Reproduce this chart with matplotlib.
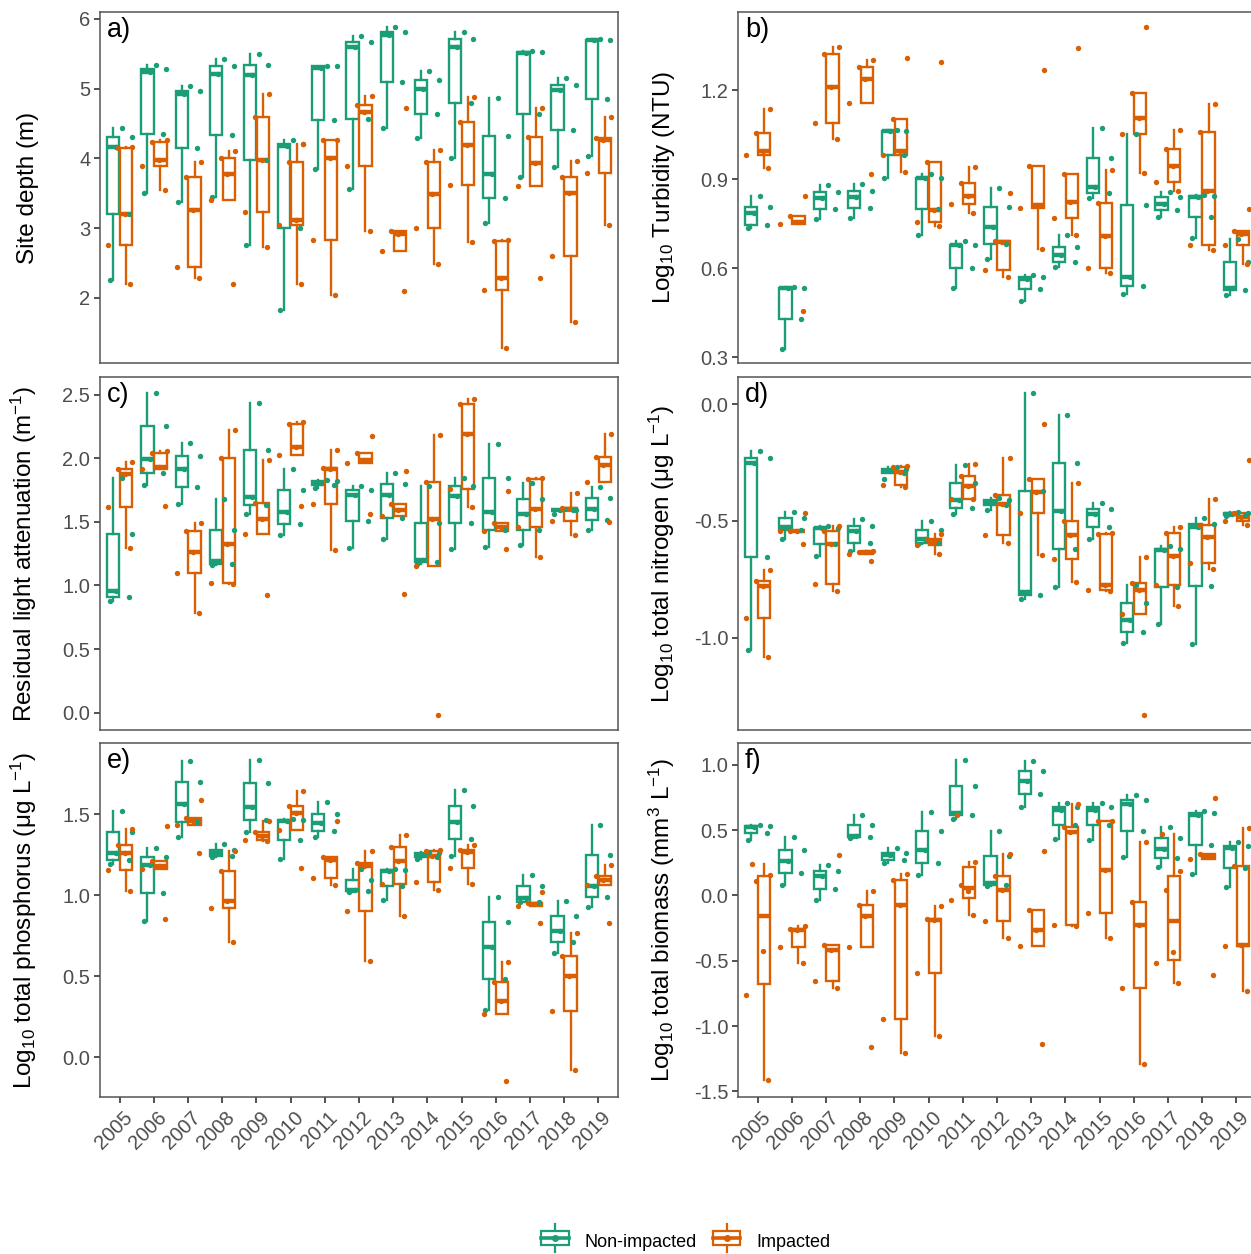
import numpy as np
import matplotlib
matplotlib.use('Agg')
import matplotlib.pyplot as plt
import matplotlib.transforms as mtransforms
from matplotlib.lines import Line2D
from matplotlib.patches import Rectangle
from matplotlib.legend_handler import HandlerBase

plt.rcParams['font.family'] = ['Liberation Sans', 'DejaVu Sans']
plt.rcParams['mathtext.fontset'] = 'custom'
plt.rcParams['mathtext.rm'] = 'Liberation Sans'
plt.rcParams['mathtext.default'] = 'regular'
plt.rcParams['axes.unicode_minus'] = False

GREEN = '#1B9E77'
ORANGE = '#D95F02'
YEARS = [str(y) for y in range(2005, 2020)]
GROUPS = ['Non-impacted', 'Impacted']

# one list of site values per year, 2005..2019

# a) site depth (m)
depth_non = [[2.25, 3.20, 4.17, 4.30, 4.43], [3.50, 4.35, 5.24, 5.28, 5.34], [3.38, 4.15, 4.92, 4.97, 5.04],
             [3.44, 4.34, 5.21, 5.32, 5.42], [2.76, 3.97, 5.20, 5.34, 5.50], [1.82, 3.00, 4.18, 4.20, 4.26],
             [3.85, 4.55, 5.30, 5.32, 5.33], [3.56, 4.56, 5.60, 5.67, 5.76], [4.44, 5.10, 5.77, 5.82, 5.89],
             [4.29, 4.64, 5.00, 5.13, 5.26], [4.00, 4.79, 5.60, 5.71, 5.82], [3.07, 3.43, 3.78, 4.32, 4.86],
             [3.74, 4.63, 5.51, 5.52, 5.54], [3.87, 4.41, 4.98, 5.05, 5.15], [4.04, 4.85, 5.70, 5.70, 5.71]]
depth_imp = [[2.20, 2.76, 3.20, 4.15, 4.16], [3.55, 3.89, 3.97, 4.24, 4.27], [2.28, 2.44, 3.26, 3.73, 3.95],
             [2.20, 3.40, 3.77, 4.00, 4.10], [2.73, 3.23, 3.97, 4.59, 4.92], [2.20, 3.05, 3.12, 3.95, 4.20],
             [2.04, 2.83, 4.00, 4.27, 4.27], [2.96, 3.89, 4.66, 4.77, 4.90], [2.10, 2.67, 2.92, 2.96, 4.72],
             [2.48, 3.00, 3.49, 3.95, 4.12], [2.80, 3.62, 4.19, 4.52, 4.88], [1.28, 2.11, 2.29, 2.82, 2.83],
             [2.28, 3.61, 3.93, 4.31, 4.72], [1.65, 2.60, 3.50, 3.73, 3.96], [3.05, 3.79, 4.26, 4.29, 4.60]]

# b) log10 turbidity (NTU)
turb_non = [[0.734, 0.745, 0.785, 0.805, 0.843], [0.328, 0.429, 0.532, 0.534, 0.538], [0.765, 0.800, 0.837, 0.858, 0.880],
            [0.768, 0.804, 0.840, 0.861, 0.885], [0.903, 0.981, 1.062, 1.063, 1.064], [0.712, 0.801, 0.903, 0.905, 0.919],
            [0.532, 0.600, 0.678, 0.680, 0.692], [0.631, 0.681, 0.740, 0.805, 0.872], [0.491, 0.530, 0.564, 0.571, 0.579],
            [0.603, 0.622, 0.644, 0.672, 0.712], [0.835, 0.852, 0.874, 0.972, 1.071], [0.515, 0.540, 0.571, 0.813, 1.051],
            [0.774, 0.796, 0.815, 0.839, 0.858], [0.703, 0.771, 0.841, 0.843, 0.846], [0.510, 0.527, 0.534, 0.622, 0.700]]
turb_imp = [[0.936, 0.981, 0.996, 1.056, 1.138], [0.456, 0.748, 0.757, 0.776, 0.844], [1.034, 1.088, 1.209, 1.323, 1.346],
            [0.917, 1.155, 1.236, 1.279, 1.303], [0.925, 0.981, 0.996, 1.101, 1.307], [0.742, 0.757, 0.796, 0.959, 1.295],
            [0.787, 0.818, 0.844, 0.886, 0.942], [0.572, 0.594, 0.690, 0.692, 0.855], [0.665, 0.804, 0.813, 0.944, 1.267],
            [0.712, 0.768, 0.822, 0.916, 1.342], [0.583, 0.600, 0.710, 0.821, 0.931], [0.920, 1.051, 1.107, 1.189, 1.413],
            [0.860, 0.891, 0.944, 1.001, 1.065], [0.661, 0.680, 0.861, 1.060, 1.152], [0.616, 0.678, 0.714, 0.725, 0.800]]

# c) residual light attenuation (m-1)
light_non = [[0.875, 0.909, 0.957, 1.402, 1.847], [1.787, 1.887, 1.992, 2.254, 2.513], [1.638, 1.774, 1.913, 2.015, 2.120],
             [1.165, 1.171, 1.190, 1.439, 1.677], [1.564, 1.630, 1.695, 2.068, 2.437], [1.400, 1.486, 1.578, 1.748, 1.913],
             [1.769, 1.787, 1.806, 1.821, 1.826], [1.297, 1.504, 1.709, 1.748, 1.782], [1.363, 1.533, 1.714, 1.800, 1.884],
             [1.171, 1.184, 1.198, 1.491, 1.779], [1.289, 1.494, 1.700, 1.779, 1.847], [1.302, 1.439, 1.578, 1.845, 2.115],
             [1.321, 1.439, 1.564, 1.682, 1.806], [1.564, 1.590, 1.591, 1.595, 1.604], [1.433, 1.517, 1.604, 1.688, 1.774]]
light_imp = [[1.297, 1.617, 1.879, 1.918, 1.970], [1.625, 1.918, 1.931, 2.041, 2.057], [0.786, 1.101, 1.263, 1.428, 1.494],
             [1.009, 1.019, 1.330, 2.003, 2.220], [0.928, 1.402, 1.525, 1.648, 1.990], [1.625, 2.023, 2.089, 2.267, 2.285],
             [1.281, 1.638, 1.918, 1.926, 2.068], [1.564, 1.965, 1.984, 2.041, 2.172], [0.930, 1.546, 1.591, 1.638, 1.900],
             [-0.020, 1.150, 1.520, 1.813, 2.180], [1.617, 1.761, 2.188, 2.424, 2.463], [1.289, 1.428, 1.460, 1.491, 1.743],
             [1.224, 1.460, 1.604, 1.840, 1.845], [1.394, 1.504, 1.604, 1.609, 1.730], [1.499, 1.813, 1.950, 2.010, 2.193]]

# d) log10 total nitrogen
tn_non = [[-1.051, -0.654, -0.250, -0.229, -0.200], [-0.576, -0.540, -0.526, -0.486, -0.461],
          [-0.651, -0.597, -0.530, -0.529, -0.521], [-0.630, -0.593, -0.544, -0.521, -0.490],
          [-0.321, -0.294, -0.286, -0.276, -0.270], [-0.597, -0.593, -0.576, -0.540, -0.501],
          [-0.469, -0.443, -0.409, -0.337, -0.261], [-0.454, -0.433, -0.419, -0.409, -0.400],
          [-0.833, -0.816, -0.804, -0.373, 0.049], [-0.783, -0.621, -0.459, -0.251, -0.047],
          [-0.579, -0.526, -0.469, -0.447, -0.421], [-1.021, -0.976, -0.926, -0.850, -0.773],
          [-0.940, -0.783, -0.623, -0.619, -0.609], [-1.026, -0.779, -0.526, -0.511, -0.487],
          [-0.480, -0.476, -0.469, -0.465, -0.461]]
tn_imp = [[-1.083, -0.916, -0.780, -0.759, -0.711], [-0.597, -0.545, -0.544, -0.543, -0.466],
          [-0.800, -0.771, -0.597, -0.544, -0.521], [-0.673, -0.640, -0.635, -0.633, -0.630],
          [-0.354, -0.347, -0.290, -0.269, -0.265], [-0.640, -0.604, -0.590, -0.576, -0.554],
          [-0.407, -0.407, -0.351, -0.307, -0.257], [-0.593, -0.561, -0.429, -0.387, -0.230],
          [-0.647, -0.466, -0.376, -0.321, -0.083], [-0.761, -0.661, -0.561, -0.501, -0.337],
          [-0.800, -0.797, -0.776, -0.557, -0.550], [-1.333, -0.900, -0.794, -0.764, -0.654],
          [-0.866, -0.776, -0.650, -0.550, -0.526], [-0.704, -0.679, -0.569, -0.519, -0.404],
          [-0.516, -0.500, -0.483, -0.466, -0.237]]

# e) log10 total phosphorus
tp_non = [[1.192, 1.219, 1.260, 1.389, 1.521], [0.842, 1.013, 1.188, 1.233, 1.290], [1.356, 1.451, 1.562, 1.695, 1.829],
          [1.235, 1.239, 1.260, 1.280, 1.315], [1.387, 1.465, 1.543, 1.691, 1.835], [1.225, 1.342, 1.460, 1.465, 1.469],
          [1.356, 1.397, 1.445, 1.500, 1.572], [1.020, 1.023, 1.034, 1.095, 1.161], [0.968, 1.054, 1.147, 1.153, 1.160],
          [1.225, 1.235, 1.249, 1.260, 1.265], [1.243, 1.348, 1.449, 1.547, 1.650], [0.294, 0.485, 0.678, 0.832, 0.986],
          [0.955, 0.958, 0.982, 1.054, 1.126], [0.643, 0.711, 0.781, 0.869, 0.966], [0.925, 0.986, 1.054, 1.245, 1.430]]
tp_imp = [[1.027, 1.157, 1.260, 1.307, 1.410], [0.853, 1.161, 1.180, 1.212, 1.424], [1.260, 1.430, 1.455, 1.475, 1.584],
          [0.711, 0.921, 0.962, 1.151, 1.274], [1.335, 1.338, 1.362, 1.387, 1.455], [1.167, 1.403, 1.506, 1.551, 1.640],
          [1.060, 1.105, 1.214, 1.235, 1.455], [0.592, 0.900, 1.177, 1.198, 1.274], [0.869, 1.071, 1.212, 1.297, 1.368],
          [1.029, 1.081, 1.239, 1.270, 1.276], [1.071, 1.167, 1.264, 1.280, 1.307], [-0.144, 0.267, 0.349, 0.464, 0.588],
          [0.828, 0.935, 0.945, 0.951, 1.019], [-0.076, 0.288, 0.503, 0.623, 0.767], [0.828, 1.064, 1.095, 1.116, 1.188]]

# f) log10 total biomass
bio_non = [[0.426, 0.477, 0.520, 0.533, 0.541], [0.082, 0.171, 0.260, 0.349, 0.444], [-0.033, 0.048, 0.150, 0.184, 0.230],
           [0.440, 0.446, 0.452, 0.541, 0.617], [0.247, 0.273, 0.306, 0.324, 0.362], [0.153, 0.247, 0.349, 0.490, 0.638],
           [0.587, 0.612, 0.630, 0.839, 1.038], [0.070, 0.082, 0.094, 0.298, 0.495], [0.676, 0.776, 0.878, 0.949, 1.026],
           [0.431, 0.541, 0.656, 0.676, 0.707], [0.426, 0.536, 0.656, 0.673, 0.707], [0.293, 0.495, 0.702, 0.732, 0.770],
           [0.214, 0.286, 0.357, 0.439, 0.523], [0.163, 0.388, 0.612, 0.630, 0.648], [0.061, 0.209, 0.365, 0.375, 0.406]]
bio_imp = [[-1.416, -0.760, -0.423, 0.112, 0.156, 0.242], [-0.518, -0.395, -0.263, -0.255, -0.237],
           [-0.709, -0.658, -0.416, -0.383, 0.306], [-1.163, -0.395, -0.156, -0.077, 0.036],
           [-1.207, -0.946, -0.071, 0.120, 0.163], [-1.074, -0.594, -0.186, -0.181, -0.084],
           [-0.153, -0.037, 0.031, 0.082, 0.258, 0.612], [-0.327, -0.194, 0.043, 0.151, 0.316],
           [-1.138, -0.385, -0.268, -0.115, 0.337], [-0.237, -0.230, 0.485, 0.520, 0.699],
           [-0.327, -0.135, 0.196, 0.571, 0.571], [-1.288, -0.709, -0.224, -0.051, 0.408],
           [-0.671, -0.517, -0.436, 0.043, 0.187, 0.469], [-0.612, 0.281, 0.298, 0.319, 0.745],
           [-0.730, -0.390, -0.378, 0.227, 0.515]]

PANELS = [
    ('a)', depth_non, depth_imp, 'Site depth (m)', (1.065, 6.10), [2, 3, 4, 5, 6], '{:.0f}'),
    ('b)', turb_non, turb_imp, 'Log$_{10}$ Turbidity (NTU)', (0.281, 1.463), [0.3, 0.6, 0.9, 1.2], '{:.1f}'),
    ('c)', light_non, light_imp, 'Residual light attenuation (m$^{-1}$)', (-0.136, 2.639),
     [0.0, 0.5, 1.0, 1.5, 2.0, 2.5], '{:.1f}'),
    ('d)', tn_non, tn_imp, 'Log$_{10}$ total nitrogen (μg L$^{-1}$)', (-1.396, 0.117), [-1.0, -0.5, 0.0], '{:.1f}'),
    ('e)', tp_non, tp_imp, 'Log$_{10}$ total phosphorus (μg L$^{-1}$)', (-0.244, 1.938),
     [0.0, 0.5, 1.0, 1.5], '{:.1f}'),
    ('f)', bio_non, bio_imp, 'Log$_{10}$ total biomass (mm$^{3}$ L$^{-1}$)', (-1.543, 1.166),
     [-1.5, -1.0, -0.5, 0.0, 0.5, 1.0], '{:.1f}'),
]

# pseudo jitter (fixed pattern) for the site points around each year
JIT = {GREEN: np.array([-0.30, 0.27, -0.12, 0.35, 0.06, -0.22]),
       ORANGE: np.array([0.31, -0.34, 0.15, -0.05, 0.37, -0.18])}

W, H = 1251, 1254
fig = plt.figure(figsize=(W / 100, H / 100), dpi=100)

COLS = [100, 738]
ROWS = [(12, 363), (377, 730), (743, 1097)]
AX_W = 518

def draw_panel(ax, tag, non, imp, ylabel, ylim, yticks, fmt, bottom):
    pos = np.arange(1, len(YEARS) + 1)
    for vals, off, col in ((non, -0.19, GREEN), (imp, 0.19, ORANGE)):
        ax.boxplot(vals, positions=pos + off, widths=0.36, showfliers=False, showcaps=False,
                   patch_artist=True, manage_ticks=False,
                   boxprops=dict(facecolor='white', edgecolor=col, linewidth=1.7),
                   whiskerprops=dict(color=col, linewidth=1.7),
                   medianprops=dict(color=col, linewidth=3.2, solid_capstyle='butt'))
    for vals, col in ((non, GREEN), (imp, ORANGE)):
        for i, v in enumerate(vals):
            ax.scatter(pos[i] + JIT[col][:len(v)], v, s=15, color=col, lw=0, zorder=4)
    ax.set_xlim(0.42, 15.58)
    ax.set_ylim(*ylim)
    ax.set_yticks(yticks)
    ax.set_yticklabels([fmt.format(t) for t in yticks])
    ax.set_xticks(pos)
    ax.tick_params(labelsize=14.5, labelcolor='#4D4D4D', color='#333333', length=4, width=1.2, pad=3)
    if bottom:
        ax.set_xticklabels(YEARS, rotation=45, ha='right', va='top', rotation_mode='anchor')
        shift = mtransforms.ScaledTranslation(3 / 100, -1 / 100, fig.dpi_scale_trans)
        for lab in ax.get_xticklabels():
            lab.set_transform(lab.get_transform() + shift)
    else:
        ax.set_xticklabels([])
        ax.tick_params(axis='x', length=0)
    for s in ax.spines.values():
        s.set_color('#555555')
        s.set_linewidth(1.1)
    ax.set_ylabel(ylabel, fontsize=17.5, color='black')
    ax.yaxis.set_label_coords(-0.118, 0.5)
    ax.text(0.013, 0.985, tag, transform=ax.transAxes, ha='left', va='top', fontsize=19.5)


for k, (tag, non, imp, ylabel, ylim, yticks, fmt) in enumerate(PANELS):
    r, c = divmod(k, 2)
    x0 = COLS[c]
    y0, y1 = ROWS[r]
    ax = fig.add_axes([x0 / W, 1 - y1 / H, AX_W / W, (y1 - y0) / H])
    draw_panel(ax, tag, non, imp, ylabel, ylim, yticks, fmt, r == 2)


class BoxKey(HandlerBase):
    # ggplot-like boxplot key: whiskers, box, median and a point
    def create_artists(self, legend, orig, xd, yd, w, h, fontsize, trans):
        c = orig.get_color()
        cx = xd + w / 2
        cy = yd + h / 2
        bh = 0.48 * h
        wh = 0.95 * h
        arts = [
            Line2D([cx, cx], [cy - wh, cy - bh], color=c, lw=1.6),
            Line2D([cx, cx], [cy + bh, cy + wh], color=c, lw=1.6),
            Rectangle((xd + 0.05 * w, cy - bh), 0.9 * w, 2 * bh, fc='white', ec=c, lw=1.6),
            Line2D([xd + 0.05 * w, xd + 0.95 * w], [cy, cy], color=c, lw=2.6),
            Line2D([cx], [cy], marker='o', ms=4, color=c, ls=''),
        ]
        for a in arts:
            a.set_transform(trans)
        return arts


handles = [Line2D([], [], color=GREEN), Line2D([], [], color=ORANGE)]
fig.legend(handles, GROUPS, loc='center', bbox_to_anchor=(685 / W, 1 - 1242 / H), ncol=2, frameon=False,
           handler_map={Line2D: BoxKey()}, fontsize=13, handlelength=1.7, handleheight=0.9,
           columnspacing=0.8, handletextpad=0.8)

fig.savefig('out.png', dpi=100)
